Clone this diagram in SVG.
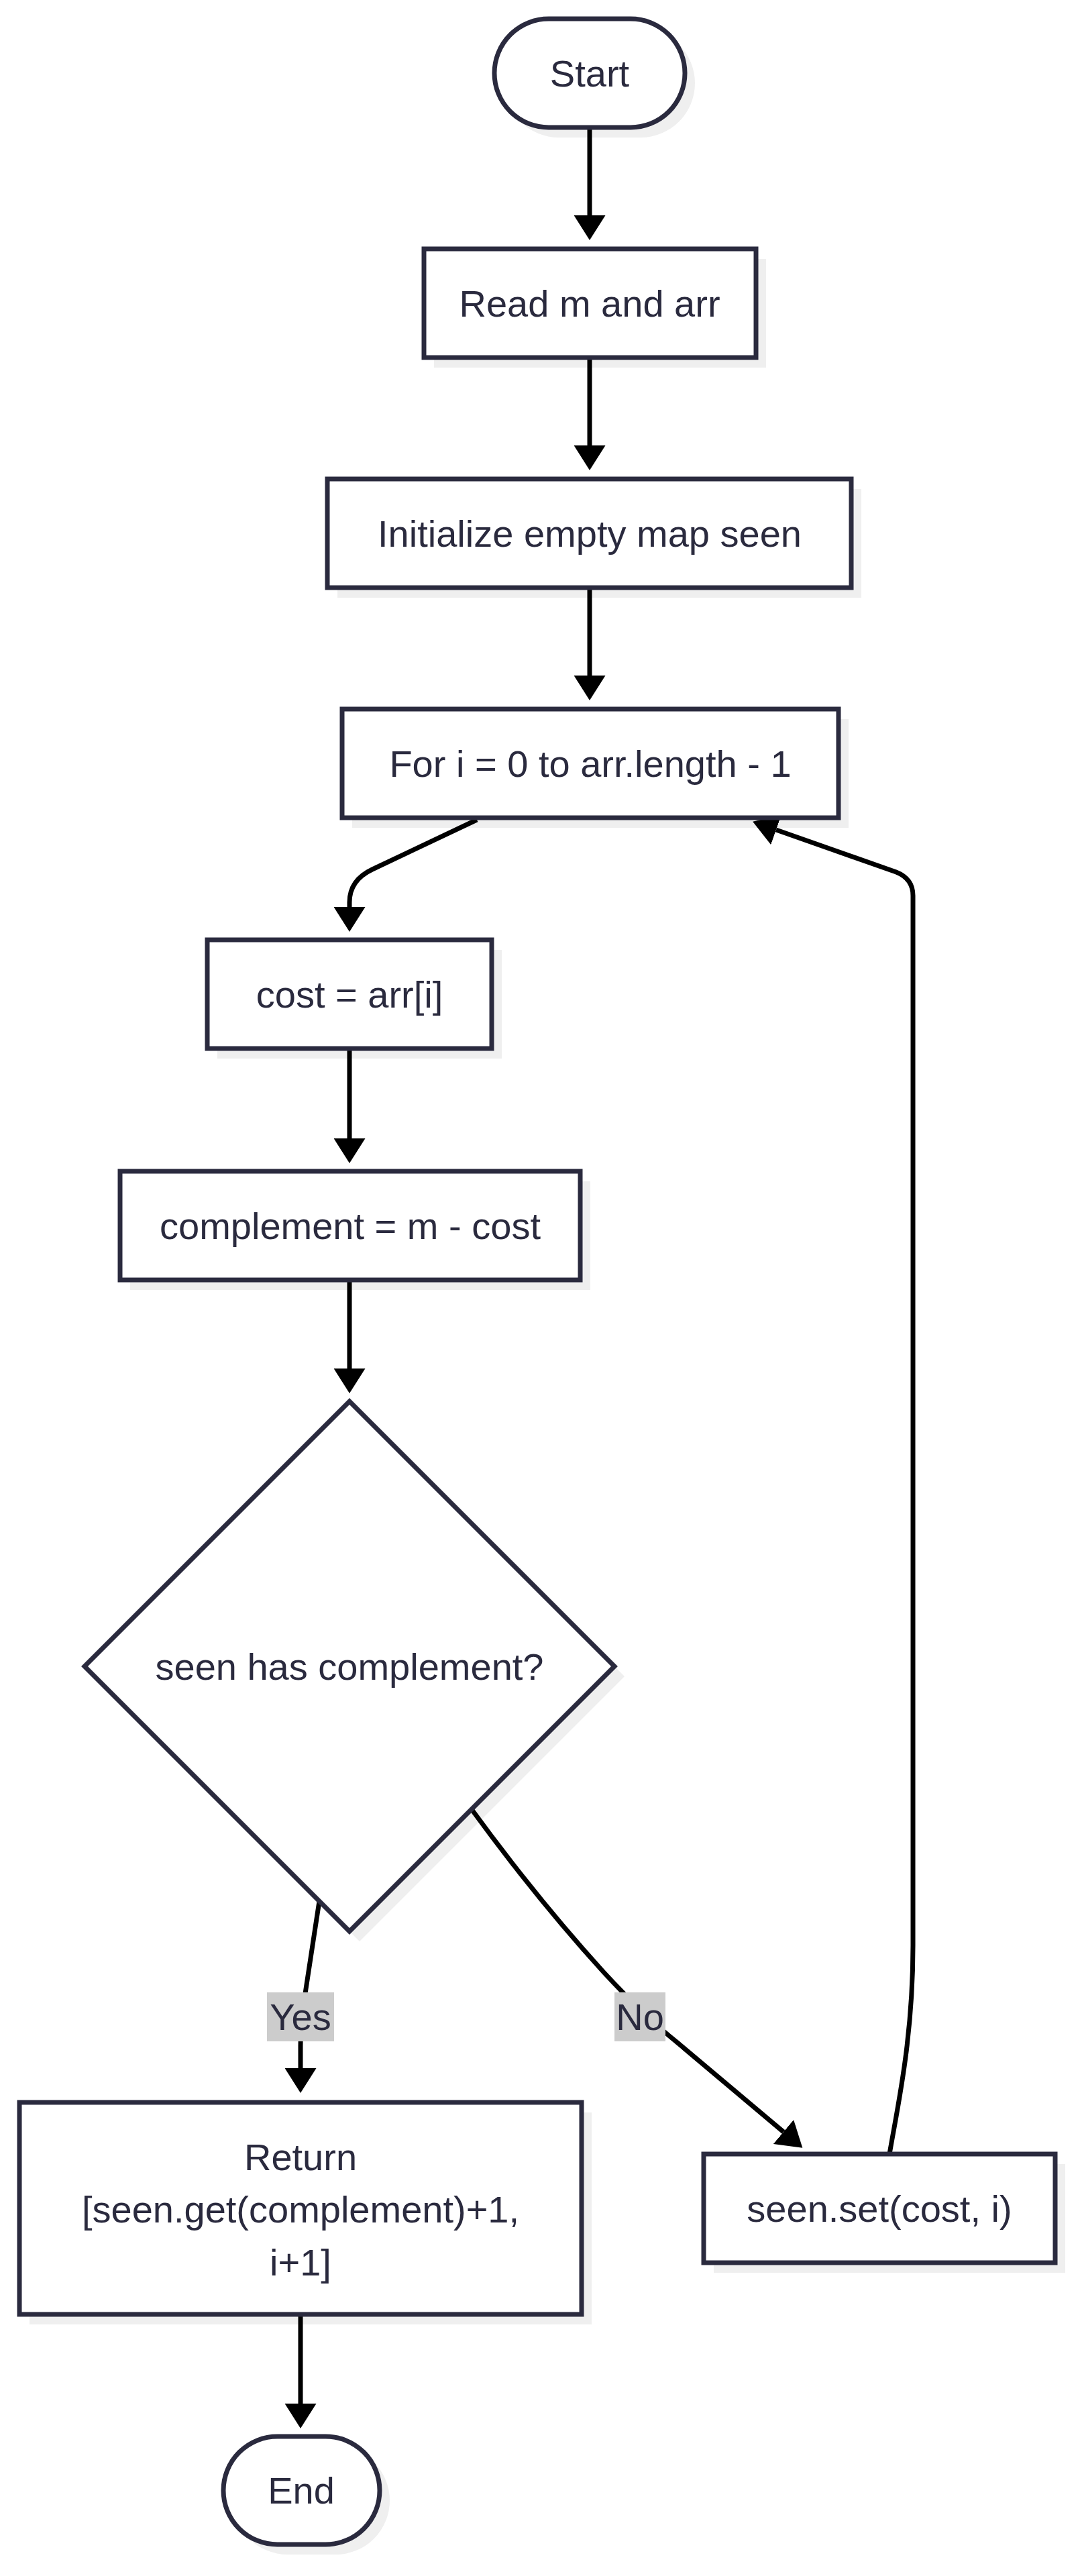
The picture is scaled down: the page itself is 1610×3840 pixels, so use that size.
<svg xmlns="http://www.w3.org/2000/svg" width="1610" height="3840" viewBox="0 0 1610 3840">
<defs>
<style>
.sh{fill:#efefef;stroke:none}
.nd{fill:#ffffff;stroke:#2a2a3e;stroke-width:7}
.tx{font-family:"Liberation Sans",Arial,sans-serif;font-size:56px;fill:#2a2a3e;text-anchor:middle}
.ed{fill:none;stroke:#000000;stroke-width:7;marker-end:url(#ah)}
.lb{fill:#cccccc;stroke:none}
</style>
<marker id="ah" viewBox="0 0 37 47" refX="0" refY="23.5" markerWidth="37" markerHeight="47" markerUnits="userSpaceOnUse" orient="auto">
<path d="M0,0 L37,23.5 L0,47 z" fill="#000000"/>
</marker>
</defs>
<rect width="1610" height="3840" fill="#ffffff"/>

<g id="shadows">
<rect class="sh" x="752" y="43" width="284" height="162" rx="81"/>
<rect class="sh" x="647" y="386" width="495" height="162"/>
<rect class="sh" x="503" y="729" width="781" height="162"/>
<rect class="sh" x="525" y="1072" width="740" height="162"/>
<rect class="sh" x="324" y="1416" width="424" height="162"/>
<rect class="sh" x="194" y="1761" width="686" height="162"/>
<polygon class="sh" points="536,2104 931,2499 536,2894 141,2499"/>
<rect class="sh" x="44" y="3149" width="838" height="316"/>
<rect class="sh" x="1064" y="3226" width="524" height="162"/>
<rect class="sh" x="348" y="3647" width="233" height="161" rx="80.5"/>
</g>

<g id="connectors">
<path class="ed" d="M879,190 L879,321"/>
<path class="ed" d="M879,533 L879,664"/>
<path class="ed" d="M879,876 L879,1007"/>
<path class="ed" d="M711,1222 L555,1296 Q521,1312 521,1345 L521,1352"/>
<path class="ed" d="M521,1563 L521,1697"/>
<path class="ed" d="M521,1908 L521,2040"/>
<path class="ed" d="M476,2834 L456,2965 Q448,3020 448,3050 L448,3083"/>
<path class="ed" d="M703,2697 Q800,2830 900,2940 Q960,3005 1010,3045 L1168,3178"/>
<path class="ed" d="M1326,3211 C1338,3140 1361,3040 1361,2900 L1361,1335 Q1361,1310 1336,1300 L1157,1237"/>
<path class="ed" d="M448,3450 L448,3583"/>
<g id="label-yes">
<rect class="lb" x="398" y="2970" width="100" height="73"/>
<text class="tx" x="448" y="3026">Yes</text>
</g>
<g id="label-no">
<rect class="lb" x="916" y="2970" width="76" height="73"/>
<text class="tx" x="954" y="3026">No</text>
</g>
</g>

<g id="start">
<rect class="nd" x="737" y="28" width="284" height="162" rx="81"/>
<text class="tx" x="879" y="129">Start</text>
</g>

<g id="read">
<rect class="nd" x="632" y="371" width="495" height="162"/>
<text class="tx" x="879" y="472">Read m and arr</text>
</g>

<g id="init">
<rect class="nd" x="488" y="714" width="781" height="162"/>
<text class="tx" x="879" y="815">Initialize empty map seen</text>
</g>

<g id="loop">
<rect class="nd" x="510" y="1057" width="740" height="162"/>
<text class="tx" x="880" y="1158">For i = 0 to arr.length - 1</text>
</g>

<g id="cost">
<rect class="nd" x="309" y="1401" width="424" height="162"/>
<text class="tx" x="521" y="1502">cost = arr[i]</text>
</g>

<g id="complement">
<rect class="nd" x="179" y="1746" width="686" height="162"/>
<text class="tx" x="522" y="1847">complement = m - cost</text>
</g>

<g id="decision">
<polygon class="nd" points="521,2089 916,2484 521,2879 126,2484"/>
<text class="tx" x="521" y="2504">seen has complement?</text>
</g>

<g id="return">
<rect class="nd" x="29" y="3134" width="838" height="316"/>
<text class="tx" x="448" y="3235">Return</text>
<text class="tx" x="448" y="3313">[seen.get(complement)+1,</text>
<text class="tx" x="448" y="3392">i+1]</text>
</g>

<g id="set">
<rect class="nd" x="1049" y="3211" width="524" height="162"/>
<text class="tx" x="1311" y="3312">seen.set(cost, i)</text>
</g>

<g id="end">
<rect class="nd" x="333" y="3632" width="233" height="161" rx="80.5"/>
<text class="tx" x="449" y="3732">End</text>
</g>
</svg>
